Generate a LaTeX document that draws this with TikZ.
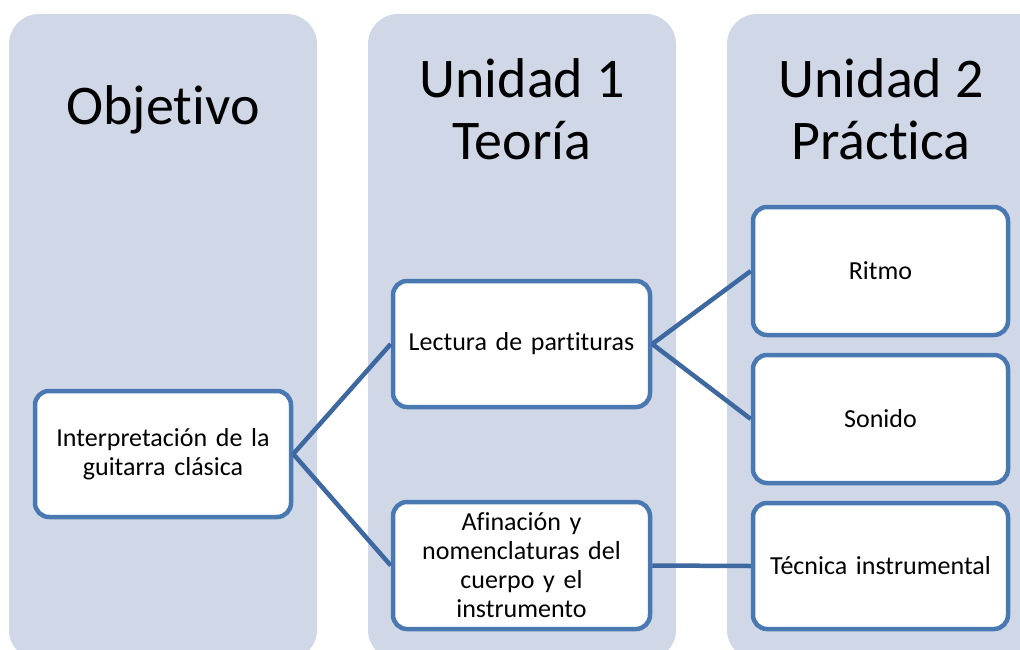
\documentclass[tikz,border=0pt]{standalone}
\usepackage{fontspec}
\setmainfont{Carlito}[Ligatures={NoCommon,NoContextual}]
\definecolor{colbg}{RGB}{208,216,232}
\definecolor{boxline}{RGB}{74,120,176}
\definecolor{conn}{RGB}{62,104,160}
\begin{document}
\begin{tikzpicture}[x=1pt,y=-1pt,
  column/.style={fill=colbg,draw=none,rounded corners=30pt},
  title/.style={font=\fontsize{56}{62}\selectfont,align=center,inner sep=0pt},
  item/.style={draw=boxline,line width=4.5pt,fill=white,rounded corners=14pt,
    minimum width=256pt,minimum height=126pt,align=center,
    font=\fontsize{26}{29}\selectfont,text width=252pt,inner sep=0pt},
  link/.style={draw=conn,line width=4.5pt}]
\useasboundingbox (0,0) rectangle (1020,649);
\clip (0,0) rectangle (1020,649);
\fill[column] (9,14) rectangle (317,660);
\fill[column] (368,14) rectangle (676,660);
\fill[column] (727,14) rectangle (1060,660);
\node[title] (t1) at (163,110) {Objetivo};
\node[title] (t2) at (522,109) {Unidad 1\\Teoría};
\node[title] (t3) at (881,109) {Unidad 2\\Práctica};
\node[item] (interp) at (163,454) {Interpretación de la\\guitarra clásica};
\node[item,minimum width=257pt] (lect) at (521.5,344) {Lectura de partituras};
\node[item,minimum width=257pt,minimum height=127pt] (afin) at (521.5,565.5) {Afinación y\\nomenclaturas del\\cuerpo y el\\instrumento};
\node[item,minimum width=255pt,minimum height=128pt] (ritmo) at (880.5,271) {Ritmo};
\node[item,minimum width=255pt,minimum height=128pt] (sonido) at (880.5,419) {Sonido};
\node[item,minimum width=255pt] (tec) at (880.5,566) {Técnica instrumental};
\draw[link] (interp.east) -- (lect.west);
\draw[link] (interp.east) -- (afin.west);
\draw[link] (lect.east) -- (ritmo.west);
\draw[link] (lect.east) -- (sonido.west);
\draw[link] (afin.east) -- (tec.west);
\end{tikzpicture}
\end{document}
